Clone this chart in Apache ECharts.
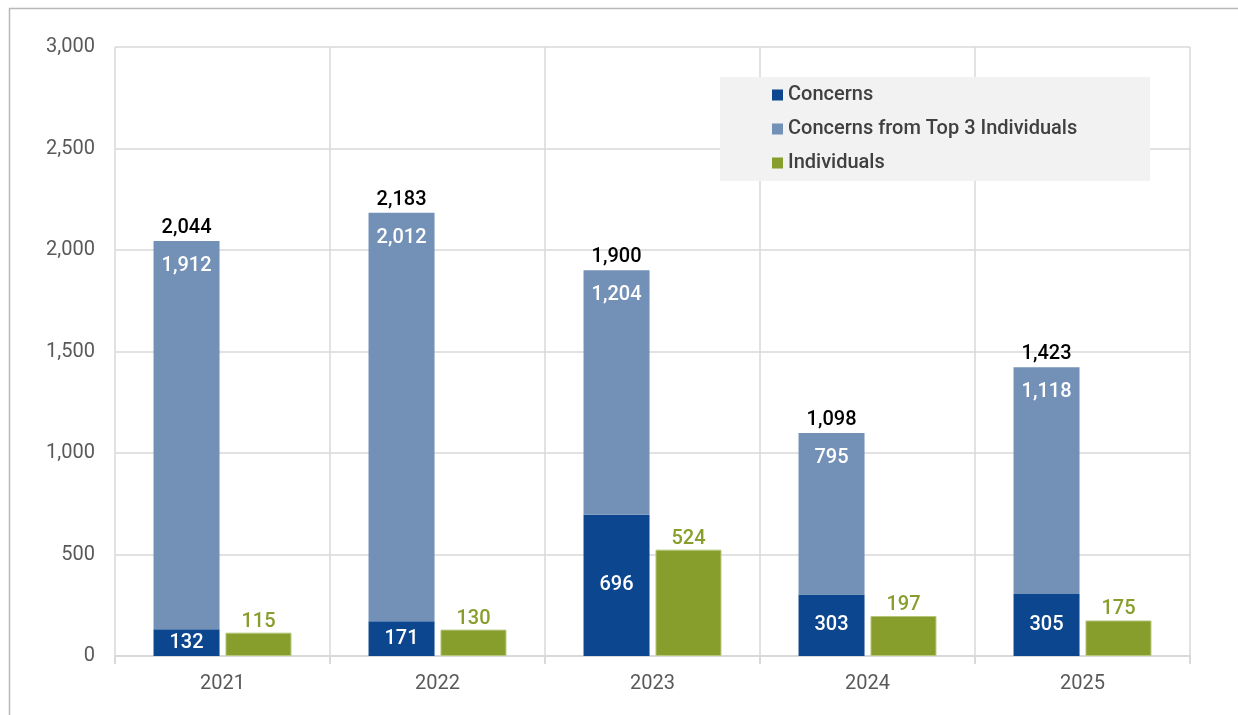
<!DOCTYPE html>
<html>
<head>
<meta charset="utf-8">
<script src="https://cdn.jsdelivr.net/npm/echarts@6/dist/echarts.min.js"></script>
<style>
html, body { margin: 0; padding: 0; background: #fff; }
#chart { width: 1238px; height: 715px; }
</style>
</head>
<body>
<div id="chart"></div>
<script>
var years = ['2021', '2022', '2023', '2024', '2025'];
var concerns = [132, 171, 696, 303, 305];
var top3Concerns = [1912, 2012, 1204, 795, 1118];
var individuals = [115, 130, 524, 197, 175];
var totals = [2044, 2183, 1900, 1098, 1423];
var yTicks = [0, 500, 1000, 1500, 2000, 2500, 3000];

var FONT = 'Roboto';
var fmt = function (v) { return Number(v).toLocaleString('en-US'); };

var chart = echarts.init(document.getElementById('chart'));

var option = {
    animation: false,
    textStyle: { fontFamily: FONT },
    graphic: [{
        type: 'rect',
        left: 7, top: 6,
        shape: { width: 1400, height: 900 },
        style: { fill: 'none', stroke: '#b8b8b8', lineWidth: 1.5 },
        z: -10
    }],
    grid: { left: 115, right: 48, top: 47, bottom: 59 },
    legend: {
        data: ['Concerns', 'Concerns from Top 3 Individuals', 'Individuals'],
        orient: 'vertical',
        left: 720, top: 77,
        padding: [7, 0, 7, 52],
        itemGap: 12,
        itemWidth: 11, itemHeight: 11,
        icon: 'rect',
        itemStyle: { borderWidth: 0 },
        backgroundColor: '#f2f2f2',
        textStyle: { fontFamily: FONT, fontSize: 20, fontWeight: 500, color: '#404040', width: 362, lineHeight: 22 }
    },
    xAxis: {
        type: 'category',
        data: years,
        axisLine: { lineStyle: { color: '#d9d9d9', width: 2 } },
        axisTick: { show: true, length: 8, lineStyle: { color: '#d9d9d9', width: 2 } },
        splitLine: { show: true, lineStyle: { color: '#d9d9d9', width: 1.5 } },
        axisLabel: { fontFamily: FONT, fontSize: 20, color: '#595959', margin: 18 }
    },
    yAxis: {
        type: 'value',
        min: yTicks[0], max: yTicks[yTicks.length - 1], interval: 500,
        axisLine: { show: false },
        axisTick: { show: false },
        splitLine: { lineStyle: { color: '#d9d9d9', width: 1.5 } },
        axisLabel: { fontFamily: FONT, fontSize: 20, color: '#595959', margin: 20, formatter: fmt }
    },
    series: [
        {
            name: 'Concerns',
            type: 'bar',
            stack: 'c',
            barWidth: 66,
            barGap: '9%',
            color: '#0b468e',
            label: { show: true, position: 'inside', color: '#fff', fontSize: 20, fontWeight: 500, fontFamily: FONT, formatter: function (p) { return fmt(p.value); } },
            data: concerns
        },
        {
            name: 'Concerns from Top 3 Individuals',
            type: 'bar',
            stack: 'c',
            color: '#7390b7',
            label: { show: true, position: 'insideTop', distance: 15, color: '#fff', fontSize: 20, fontWeight: 500, fontFamily: FONT, formatter: function (p) { return fmt(p.value); } },
            data: top3Concerns
        },
        {
            name: 'Total',
            type: 'bar',
            stack: 'c',
            color: 'rgba(0,0,0,0)',
            label: { show: true, position: 'top', distance: 3, color: '#000', fontSize: 20, fontWeight: 500, fontFamily: FONT, formatter: function (p) { return fmt(totals[p.dataIndex]); } },
            data: years.map(function () { return 0; })
        },
        {
            name: 'Individuals',
            type: 'bar',
            barWidth: 66,
            color: '#879e2c',
            itemStyle: { borderColor: '#b8c77e', borderWidth: 1 },
            label: { show: true, position: 'top', distance: 1, color: '#879e2c', fontSize: 20, fontWeight: 500, fontFamily: FONT, formatter: function (p) { return fmt(p.value); } },
            data: individuals
        }
    ]
};

chart.setOption(option);
</script>
</body>
</html>
